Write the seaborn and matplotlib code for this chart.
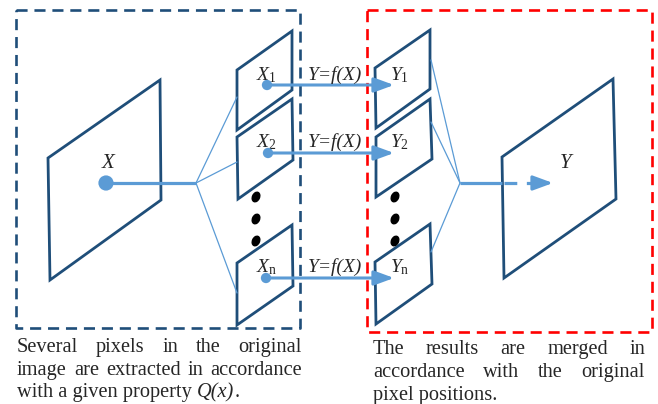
import matplotlib
matplotlib.use("Agg")
import matplotlib.pyplot as plt
from matplotlib.patches import Polygon, Ellipse
import seaborn as sns

# text content
src_labels = [r"$X_\mathrm{1}$", r"$X_\mathrm{2}$", r"$X_\mathrm{n}$"]
dst_labels = [r"$Y_\mathrm{1}$", r"$Y_\mathrm{2}$", r"$Y_\mathrm{n}$"]
func_label = "Y=f(X)"
left_caption = [["Several", "pixels", "in", "the", "original"],
                ["image", "are", "extracted", "in", "accordance"],
                ["with a given property ", "Q(x)", "."]]
right_caption = [["The", "results", "are", "merged", "in"],
                 ["accordance", "with", "the", "original"],
                 ["pixel positions."]]

NAVY = "#1F4E79"
LIGHT = "#5B9BD5"
CAP_SIZE = 14.7

sns.set_theme(style="white")
plt.rcParams["font.family"] = ["Liberation Serif", "DejaVu Serif"]
plt.rcParams["mathtext.fontset"] = "custom"
plt.rcParams["mathtext.rm"] = "Liberation Serif"
plt.rcParams["mathtext.it"] = "Liberation Serif:italic"

fig = plt.figure(figsize=(6.58, 4.04), dpi=100)
ax = fig.add_axes([0, 0, 1, 1])
ax.set_xlim(0, 658)
ax.set_ylim(404, 0)
ax.axis("off")


def quad(pts, lw=2.0):
    ax.add_patch(Polygon(pts, closed=True, fill=False, ec=NAVY, lw=lw,
                         joinstyle="miter"))


def dashed_box(x0, y0, x1, y1, color):
    ax.plot([x0, x1, x1, x0, x0], [y0, y0, y1, y1, y0], color=color, lw=1.9,
            linestyle=(0, (4.2, 2.6)), solid_joinstyle="miter")


def arrow(x0, x1, y):
    ax.annotate("", xy=(x1, y), xytext=(x0, y),
                arrowprops=dict(arrowstyle="-|>,head_length=0.6,head_width=0.22",
                                color=LIGHT, lw=2.2, shrinkA=0, shrinkB=0,
                                mutation_scale=20))


# dashed frames
dashed_box(16, 10, 300, 328, NAVY)
dashed_box(367, 10, 652, 332, "red")

# big input / output images
quad([(48, 158), (160, 80), (161, 200), (50, 280)])
quad([(502, 157), (613, 79), (616, 199), (504, 278)])

# small patches
row_y = [85, 153, 278]
src_quads = [[(237, 70), (292, 31), (292, 90), (237, 130)],
             [(237, 137), (292, 99), (293, 160), (238, 199)],
             [(237, 263), (292, 225), (293, 286), (237, 325)]]
dst_quads = [[(375, 68), (430, 30), (430, 89), (376, 128)],
             [(376, 137), (430, 99), (432, 159), (376, 197)],
             [(375, 262), (430, 224), (432, 284), (376, 324)]]
for q in src_quads + dst_quads:
    quad(q, lw=2.0)

# fan-out lines from X
hub_l = (196, 183)
for end in [(237, 97), (237, 162), (237, 293)]:
    ax.plot([hub_l[0], end[0]], [hub_l[1], end[1]], color=LIGHT, lw=0.9)
ax.plot([106, hub_l[0]], [183, 183], color=LIGHT, lw=2.3, solid_capstyle="butt")

# fan-in lines to Y
hub_r = (460, 183)
for start in [(431, 60), (431, 122), (431, 252)]:
    ax.plot([start[0], hub_r[0]], [start[1], hub_r[1]], color=LIGHT, lw=0.9)
ax.plot([hub_r[0], 502], [183, 183], color=LIGHT, lw=2.3, solid_capstyle="butt")
ax.plot([504, 538], [183, 183], color=LIGHT, lw=2.3, linestyle=(0, (4.0, 3.0)),
        dash_capstyle="butt")
arrow(536, 553, 183)

# mapping arrows and dots
for y in row_y:
    arrow(267, 394, y)
sns.scatterplot(x=[106], y=[183], s=120, color=LIGHT, edgecolor="none",
                ax=ax, zorder=5)
sns.scatterplot(x=[267, 268, 266], y=row_y, s=55, color=LIGHT,
                edgecolor="none", ax=ax, zorder=5)

label_y = [80, 147, 272]
for i, yb in enumerate(label_y):
    ax.text(256, yb, src_labels[i], fontsize=14, va="baseline", ha="left")
    ax.text(390, yb, dst_labels[i], fontsize=14, va="baseline", ha="left")
    ax.text(335, yb, func_label, fontsize=14, fontstyle="italic",
            va="baseline", ha="center")

ax.text(108, 168, "X", fontsize=15, fontstyle="italic", va="baseline", ha="center")
ax.text(566, 168, "Y", fontsize=15, fontstyle="italic", va="baseline", ha="center")

# ellipsis dots
for cx in [256, 395]:
    for cy in [197, 219, 241]:
        ax.add_patch(Ellipse((cx, cy), 7, 10, angle=25, color="black"))

# captions, justified
renderer = fig.canvas.get_renderer()


def justified(words, x0, x1, yb, justify=True, italic_idx=()):
    objs = []
    for k, w in enumerate(words):
        t = ax.text(x0, yb, w, fontsize=CAP_SIZE, va="baseline", ha="left",
                    fontstyle="italic" if k in italic_idx else "normal")
        objs.append(t)
    widths = [t.get_window_extent(renderer).width for t in objs]
    if justify and len(words) > 1:
        gap = (x1 - x0 - sum(widths)) / (len(words) - 1)
    else:
        gap = 0
    x = x0
    for t, w in zip(objs, widths):
        t.set_x(x)
        x += w + gap


justified(left_caption[0], 17, 302, 352)
justified(left_caption[1], 17, 302, 375)
justified(left_caption[2], 17, 302, 397, justify=False, italic_idx=(1,))
justified(right_caption[0], 373, 645, 354)
justified(right_caption[1], 373, 645, 377)
justified(right_caption[2], 373, 645, 400, justify=False)

fig.savefig("out.png", dpi=100)
